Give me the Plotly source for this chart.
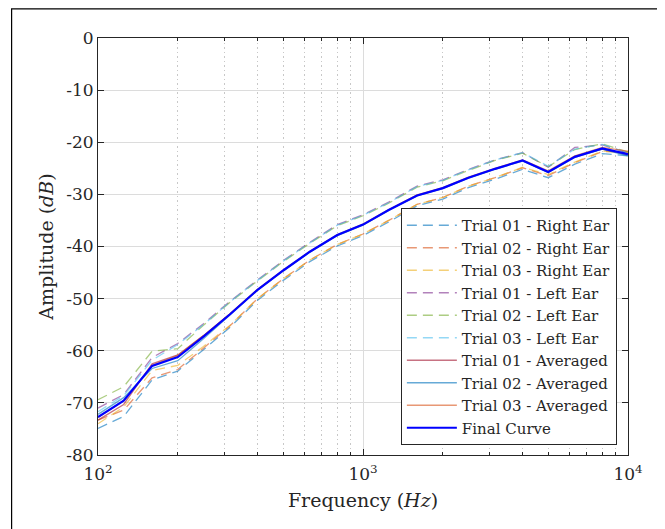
import plotly.graph_objects as go

freq = [100, 125, 160, 200, 250, 315, 400, 500, 630, 800, 1000, 1250, 1600,
        2000, 2500, 3150, 4000, 5000, 6300, 8000, 10000]

right_t1 = [-74.9, -72.6, -65.6, -63.9, -59.8, -55.5, -50.3, -46.5, -42.9, -39.9, -37.9,
            -35.3, -32.2, -30.9, -28.7, -27.1, -25.2, -26.8, -24.2, -22.2, -22.6]
right_t2 = [-73.3, -71.4, -65.2, -63.6, -59.5, -55.2, -50.0, -46.2, -42.6, -39.6, -37.6,
            -35.0, -31.9, -30.6, -28.4, -26.8, -24.9, -26.4, -23.9, -21.8, -21.8]
right_t3 = [-74.0, -70.8, -63.8, -62.8, -59.2, -55.1, -50.0, -46.2, -42.6, -39.6, -37.6,
            -35.0, -31.9, -30.6, -28.4, -26.8, -24.8, -26.2, -23.8, -21.7, -22.0]
left_t1 = [-71.0, -68.4, -61.3, -58.6, -54.8, -50.5, -46.4, -42.7, -39.2, -35.8, -33.9,
           -31.5, -28.4, -27.2, -25.2, -23.4, -22.0, -24.8, -21.0, -20.5, -22.1]
left_t2 = [-69.4, -66.9, -60.1, -59.6, -55.1, -50.7, -46.6, -42.9, -39.4, -36.0, -34.1,
           -31.7, -28.6, -27.4, -25.4, -23.5, -22.1, -24.7, -21.4, -20.3, -21.9]
left_t3 = [-71.7, -68.6, -61.8, -58.8, -55.0, -50.6, -46.5, -42.8, -39.3, -35.9, -34.0,
           -31.6, -28.5, -27.3, -25.3, -23.4, -22.0, -24.6, -21.3, -20.4, -22.0]
avg_t1 = [-73.3, -70.3, -62.5, -60.8, -57.1, -52.9, -48.3, -44.6, -41.0, -37.8, -35.8,
          -33.0, -30.2, -28.8, -26.8, -25.1, -23.5, -25.7, -22.7, -21.3, -22.4]
avg_t2 = [-72.2, -69.0, -63.4, -61.9, -57.7, -53.2, -48.4, -44.7, -41.1, -37.9, -35.9,
          -33.1, -30.3, -28.9, -26.9, -25.2, -23.6, -25.8, -22.9, -21.3, -22.6]
avg_t3 = [-72.8, -69.6, -62.8, -60.9, -57.1, -52.9, -48.2, -44.5, -40.9, -37.7, -35.7,
          -32.9, -30.1, -28.7, -26.7, -25.0, -23.4, -25.5, -22.6, -21.0, -21.7]
final_curve = [-72.7, -69.6, -62.9, -61.2, -57.3, -53.0, -48.3, -44.6, -41.0, -37.8, -35.8,
               -33.0, -30.2, -28.8, -26.8, -25.1, -23.5, -25.7, -22.8, -21.2, -22.3]

names = ["Trial 01 - Right Ear", "Trial 02 - Right Ear", "Trial 03 - Right Ear",
         "Trial 01 - Left Ear", "Trial 02 - Left Ear", "Trial 03 - Left Ear",
         "Trial 01 - Averaged", "Trial 02 - Averaged", "Trial 03 - Averaged",
         "Final Curve"]
series = [right_t1, right_t2, right_t3, left_t1, left_t2, left_t3,
          avg_t1, avg_t2, avg_t3, final_curve]

y_ticks = [0, -10, -20, -30, -40, -50, -60, -70, -80]
y_tick_labels = ["0", "-10", "-20", "-30", "-40", "-50", "-60", "-70", "-80"]
x_ticks = [100, 1000, 10000]
x_tick_labels = ["10<sup>2</sup>", "10<sup>3</sup>", "10<sup>4</sup>"]
x_minor_ticks = [200, 300, 400, 500, 600, 700, 800, 900,
                 2000, 3000, 4000, 5000, 6000, 7000, 8000, 9000]

colors = ["rgba(0,114,189,0.6)", "rgba(217,83,25,0.6)", "rgba(237,177,32,0.6)",
          "rgba(126,47,142,0.6)", "rgba(119,172,48,0.6)", "rgba(77,190,238,0.6)",
          "rgba(162,20,47,0.6)", "rgba(0,114,189,0.6)", "rgba(217,83,25,0.6)",
          "rgb(0,0,255)"]
dashes = ["10px,6px"] * 6 + ["solid"] * 4
widths = [1.3] * 9 + [2.2]

FONT = "DejaVu Serif"
AX = "#262626"

fig = go.Figure()
for n, s, c, d, w in zip(names, series, colors, dashes, widths):
    fig.add_trace(go.Scatter(x=freq, y=s, mode="lines", name=n,
                             line=dict(color=c, dash=d, width=w)))

fig.update_layout(
    width=657, height=521,
    margin=dict(l=90, r=37, t=30, b=74),
    paper_bgcolor="white", plot_bgcolor="white",
    font=dict(family=FONT, size=15, color=AX),
    showlegend=True,
    legend=dict(x=0.979, y=0.024, xanchor="right", yanchor="bottom",
                bgcolor="white", bordercolor=AX, borderwidth=1,
                font=dict(family=FONT, size=15, color=AX),
                itemwidth=50, tracegroupgap=0),
    shapes=[dict(type="rect", xref="paper", yref="paper",
                 x0=-0.163, x1=1.062, y0=-0.25, y1=1.070,
                 line=dict(color="black", width=1.2), fillcolor="rgba(0,0,0,0)",
                 layer="below")],
)

fig.update_xaxes(
    type="log", range=[2, 4], automargin=False,
    tickvals=x_ticks, ticktext=x_tick_labels,
    ticks="inside", ticklen=6, tickcolor=AX, tickwidth=1,
    showline=True, linecolor=AX, linewidth=1, mirror="allticks",
    showgrid=True, gridcolor="#dcdcdc", gridwidth=1,
    minor=dict(tickmode="array", tickvals=x_minor_ticks,
               ticks="inside", ticklen=3, tickcolor=AX, showgrid=True,
               gridcolor="#c8c8c8", griddash="1.5px,3px", gridwidth=1),
    zeroline=False, ticklabelstandoff=4,
    tickfont=dict(family=FONT, size=17, color=AX),
    title=dict(text="Frequency (<i>Hz</i>)", font=dict(family=FONT, size=19, color=AX),
               standoff=10),
)
fig.update_yaxes(
    range=[-80, 0], automargin=False,
    tickvals=y_ticks, ticktext=y_tick_labels,
    ticks="inside", ticklen=6, tickcolor=AX, tickwidth=1,
    showline=True, linecolor=AX, linewidth=1, mirror="allticks",
    showgrid=True, gridcolor="#dcdcdc", gridwidth=1,
    zeroline=False,
    tickfont=dict(family=FONT, size=17, color=AX),
    title=dict(text="Amplitude (<i>dB</i>)", font=dict(family=FONT, size=19, color=AX),
               standoff=7),
)

fig.write_html("out.html")
